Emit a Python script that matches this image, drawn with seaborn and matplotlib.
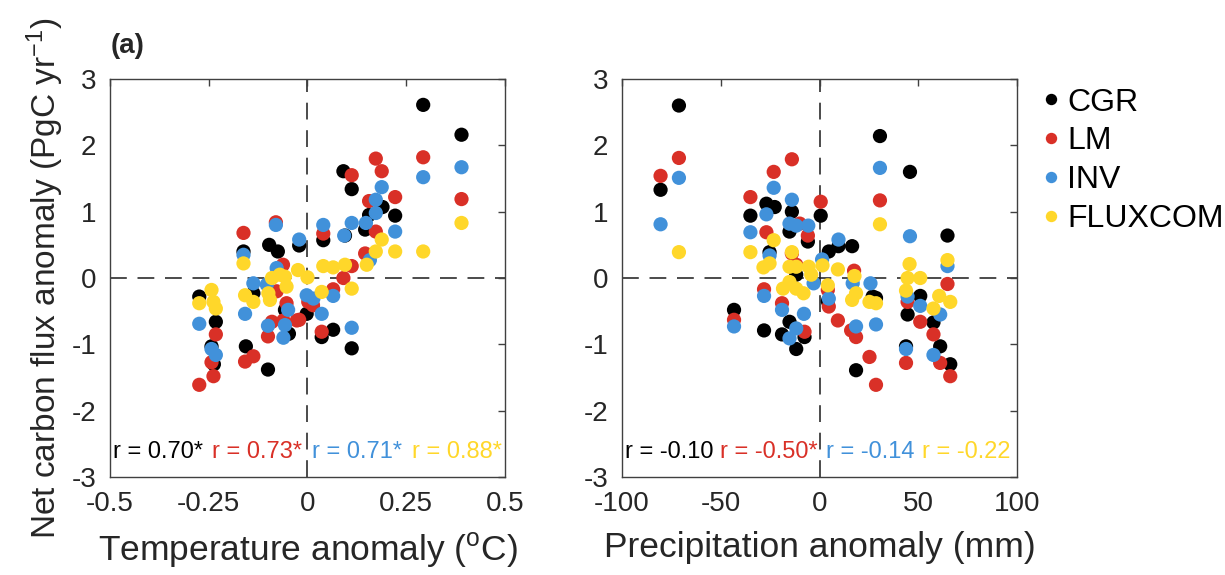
import numpy as np
import pandas as pd
import matplotlib
matplotlib.use("Agg")
import matplotlib.pyplot as plt
import seaborn as sns

# ---- series names and colours ----
series = ["CGR", "LM", "INV", "FLUXCOM"]
colors = ["#000000", "#D93027", "#4191DA", "#FFD72A"]

# ---- temperature anomaly (degC) vs net carbon flux anomaly (PgC/yr) ----
temp_cgr_x = [0.293, 0.39, 0.091, 0.112, 0.19, 0.156, 0.222, 0.146, 0.095, 0.04, -0.021,
              -0.162, -0.097, -0.075, -0.274, -0.232, -0.243, -0.237, -0.137, -0.156,
              -0.10, -0.057, -0.047, -0.002, 0.036, 0.065, 0.112]
temp_cgr_y = [2.61, 2.16, 1.61, 1.34, 1.07, 0.95, 0.94, 0.73, 0.64, 0.57, 0.49,
              0.40, 0.50, 0.40, -0.28, -0.66, -1.03, -1.30, -0.23, -1.03,
              -1.38, -0.48, -0.84, -0.54, -0.89, -0.78, -1.06]

temp_lm_x = [0.293, 0.39, 0.112, 0.173, 0.188, 0.222, 0.156, 0.173, 0.146, 0.04, -0.162,
             -0.08, -0.062, -0.232, -0.243, -0.238, -0.274, -0.158, -0.137, -0.053, -0.09,
             -0.10, -0.061, -0.027, -0.078, 0.112, 0.091, 0.065, 0.002, 0.014, -0.021, 0.036]
temp_lm_y = [1.82, 1.19, 1.55, 1.80, 1.61, 1.22, 1.16, 0.70, 0.37, 0.67, 0.68,
             0.84, 0.20, -0.85, -1.27, -1.48, -1.61, -1.26, -1.18, -0.38, -0.66,
             -0.88, -0.64, -0.64, -0.20, 0.18, 0.00, -0.17, -0.36, -0.41, -0.63, -0.81]

temp_inv_x = [0.39, 0.293, 0.188, 0.173, 0.173, 0.148, 0.222, 0.093, 0.112, 0.04, -0.021,
              -0.162, -0.08, 0.158, -0.274, -0.243, -0.232, -0.137, -0.158, -0.049, -0.10,
              -0.061, -0.057, -0.078, -0.103, 0.065, -0.002, 0.015, 0.036, 0.112]
temp_inv_y = [1.67, 1.52, 1.37, 1.18, 0.98, 0.83, 0.70, 0.64, 0.83, 0.80, 0.58,
              0.35, 0.80, 0.27, -0.69, -1.07, -1.16, -0.08, -0.54, -0.48, -0.72,
              -0.90, -0.71, 0.15, -0.10, -0.27, -0.26, -0.31, -0.54, -0.75]

temp_flux_x = [0.39, 0.293, 0.188, 0.173, 0.222, -0.162, -0.243, -0.274, -0.238, -0.232,
               -0.158, -0.137, -0.09, -0.099, -0.095, -0.053, -0.057, -0.024, 0.04, 0.065,
               0.095, 0.15, 0.0, 0.112, 0.036, -0.07]
temp_flux_y = [0.83, 0.40, 0.58, 0.40, 0.40, 0.22, -0.18, -0.38, -0.36, -0.46,
               -0.26, -0.36, 0.00, -0.23, -0.33, -0.13, 0.02, 0.12, 0.18, 0.16,
               0.20, 0.20, 0.01, -0.16, -0.21, 0.05]

# ---- precipitation anomaly (mm) vs net carbon flux anomaly (PgC/yr) ----
prec_cgr_x = [-71.2, -80.5, -35, -26.9, -22.7, -25.3, -14, -15.2, -5.9, 0.6, 30.6, 45.8,
              64.8, 9.6, 16.5, 4.7, -11.8, -43.3, -28.1, -19, -15.2, -11.8, -7.6, 26.9,
              28.6, 4.2, 18.5, 51, 44.6, 43.8, 57.7, 61.1, 66.2]
prec_cgr_y = [2.60, 1.33, 0.94, 1.12, 1.07, 0.39, 1.00, 0.70, 0.55, 0.94, 2.14, 1.60,
              0.64, 0.48, 0.48, 0.40, 0.05, -0.48, -0.79, -0.85, -0.66, -1.07, -0.89, -0.28,
              -0.30, -0.35, -1.39, -0.27, -0.55, -1.03, -0.67, -1.03, -1.30]

prec_lm_x = [-71.2, -80.5, -35, -23.2, -26.9, -14, -14, -10, -5.9, 0.6, 30.6, 17.5,
             -43.3, -28.1, -19, -11.8, -7.6, 4.2, 4.7, 9.3, 16, 18.5, 25.3, 28.6, 44.6,
             51, 43.8, 57.7, 61.1, 66.2, 64.8]
prec_lm_y = [1.81, 1.54, 1.22, 1.60, 0.69, 1.79, 0.37, 0.82, 0.64, 1.15, 1.17, 0.11,
             -0.63, -0.17, -0.38, 0.20, -0.81, -0.18, -0.43, -0.64, -0.79, -0.89, -1.19,
             -1.61, -0.36, -0.66, -1.28, -0.85, -1.28, -1.48, -0.09]

prec_inv_x = [-71.2, -80.5, -35, -26.9, -23.2, -25.3, -14, -15.2, -11.8, -5.7, 30.6, 45.8,
              64.8, 9.6, 1.3, -43.3, -28.1, -19, -3.0, -11.8, -15.2, -7.9, 16.8, 25.8, 4.7,
              18.5, 28.6, 44.6, 51, 43.8, 61.1, 57.7]
prec_inv_y = [1.51, 0.81, 0.69, 0.96, 1.36, 0.34, 1.18, 0.82, 0.79, 0.79, 1.66, 0.63,
              0.18, 0.58, 0.28, -0.73, -0.27, -0.48, -0.08, -0.76, -0.91, -0.54, -0.08,
              -0.08, -0.31, -0.73, -0.70, -0.28, -0.42, -1.07, -0.55, -1.16]

prec_flux_x = [-71.2, -35, -23.2, -25.3, -28.4, -14, -15.2, -11.8, -5.5, 30.6, 45.6, 64.8,
               1.5, 9.3, -18.5, -15.2, -11.8, -8.1, -4.2, 17.7, 4.2, 18.5, 16.5, 25.3, 28.6,
               44.6, 51, 43.8, 60.6, 66.2, 57.7]
prec_flux_y = [0.39, 0.39, 0.57, 0.22, 0.16, 0.39, 0.17, 0.17, 0.17, 0.81, 0.21, 0.27,
               0.19, 0.13, -0.16, -0.06, -0.16, -0.23, 0.05, 0.03, -0.11, -0.23, -0.33,
               -0.36, -0.38, 0.00, 0.00, -0.19, -0.27, -0.36, -0.46]

# ---- correlation coefficients shown in each panel ----
temp_r = ["r = 0.70*", "r = 0.73*", "r = 0.71*", "r = 0.88*"]
prec_r = ["r = -0.10", "r = -0.50*", "r = -0.14", "r = -0.22"]

# ---- axis ticks ----
temp_ticks = [-0.5, -0.25, 0, 0.25, 0.5]
temp_ticklabels = ["-0.5", "-0.25", "0", "0.25", "0.5"]
prec_ticks = [-100, -50, 0, 50, 100]
prec_ticklabels = ["-100", "-50", "0", "50", "100"]
flux_ticks = [-3, -2, -1, 0, 1, 2, 3]
flux_ticklabels = ["-3", "-2", "-1", "0", "1", "2", "3"]


def long_frame(xs, ys):
    parts = []
    for name, x, y in zip(series, xs, ys):
        parts.append(pd.DataFrame({"x": x, "y": y, "series": name}))
    return pd.concat(parts, ignore_index=True)


temp_df = long_frame([temp_cgr_x, temp_lm_x, temp_inv_x, temp_flux_x],
                     [temp_cgr_y, temp_lm_y, temp_inv_y, temp_flux_y])
prec_df = long_frame([prec_cgr_x, prec_lm_x, prec_inv_x, prec_flux_x],
                     [prec_cgr_y, prec_lm_y, prec_inv_y, prec_flux_y])

sns.set_style("white")
plt.rcParams["font.family"] = ["Liberation Sans", "DejaVu Sans"]
plt.rcParams["mathtext.fontset"] = "custom"
plt.rcParams["mathtext.rm"] = "Liberation Sans"
plt.rcParams["mathtext.it"] = "Liberation Sans:italic"
plt.rcParams["axes.unicode_minus"] = False

text_gray = "#262626"
palette = dict(zip(series, colors))

fig = plt.figure(figsize=(12.25, 5.75), dpi=100)
ax1 = fig.add_axes([0.0898, 0.1704, 0.3224, 0.6922])
ax2 = fig.add_axes([0.5078, 0.1704, 0.3224, 0.6922])

for ax, df, xlim, ticks, ticklabels, xlabel in [
    (ax1, temp_df, (-0.5, 0.5), temp_ticks, temp_ticklabels,
     r"Temperature anomaly ($^{\mathrm{o}}$C)"),
    (ax2, prec_df, (-100, 100), prec_ticks, prec_ticklabels,
     "Precipitation anomaly (mm)"),
]:
    ax.axhline(0, color="#1a1a1a", lw=1.1, dashes=(11, 7), zorder=0.5)
    ax.axvline(0, color="#1a1a1a", lw=1.1, dashes=(11, 7), zorder=0.5)
    sns.scatterplot(data=df, x="x", y="y", hue="series", hue_order=series,
                    palette=palette, s=105, linewidth=0, alpha=1,
                    legend=(ax is ax2), ax=ax, zorder=2)
    ax.set_xlim(*xlim)
    ax.set_ylim(-3, 3)
    ax.set_xticks(ticks)
    ax.set_xticklabels(ticklabels)
    ax.set_yticks(flux_ticks)
    ax.set_yticklabels(flux_ticklabels)
    ax.set_xlabel(xlabel, fontsize=25.5, color=text_gray, labelpad=10)
    ax.set_ylabel("")
    ax.tick_params(direction="in", top=True, right=True, length=5, width=1,
                   color="#404040", labelsize=20, labelcolor=text_gray, pad=10)
    for sp in ax.spines.values():
        sp.set_color("#404040")
        sp.set_linewidth(1.0)

ax1.set_ylabel(r"Net carbon flux anomaly (PgC yr$^{\mathrm{-1}}$)", fontsize=24,
               color=text_gray, labelpad=4)

# correlation labels along the bottom of each panel
for x, txt, c in zip([-0.492, -0.242, 0.011, 0.265], temp_r, colors):
    ax1.text(x, -2.63, txt, color=c, fontsize=17, va="center", ha="left")
for x, txt, c in zip([-98.5, -50.5, 3.5, 52.0], prec_r, colors):
    ax2.text(x, -2.63, txt, color=c, fontsize=17, va="center", ha="left")

fig.text(0.09, 0.92, "(a)", fontsize=20, fontweight="bold", color=text_gray,
         ha="left", va="center")

handles, labels = ax2.get_legend_handles_labels()
leg = ax2.legend(handles, labels, loc="upper left", bbox_to_anchor=(0.8345, 0.87),
                 bbox_transform=fig.transFigure, frameon=False, fontsize=23,
                 handletextpad=0.0, labelspacing=0.28, borderaxespad=0,
                 handlelength=1.0, markerscale=0.8)
for t in leg.get_texts():
    t.set_color("black")

fig.savefig("out.png", dpi=100)
